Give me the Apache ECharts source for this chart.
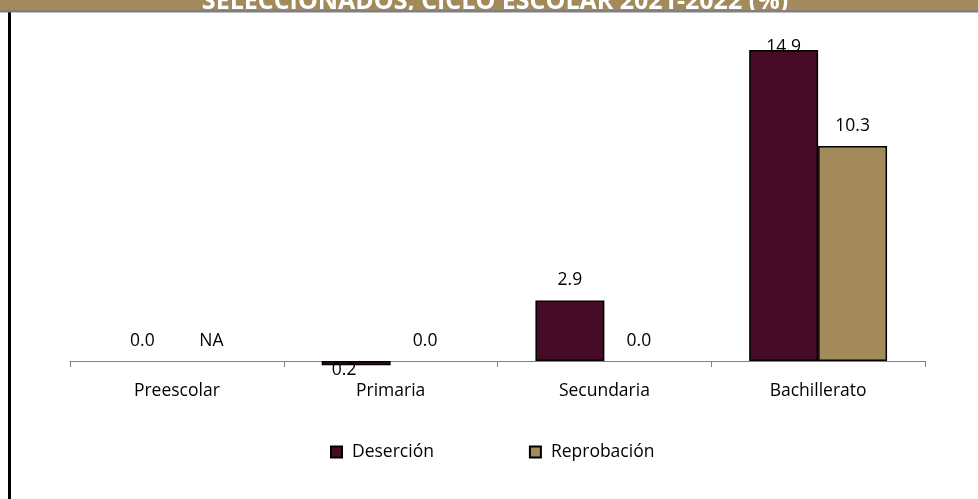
<!DOCTYPE html>
<html>
<head>
<meta charset="utf-8">
<script src="https://cdn.jsdelivr.net/npm/echarts@6/dist/echarts.min.js"></script>
<style>html,body{margin:0;padding:0;background:#fff;}#c{width:978px;height:499px;}</style>
</head>
<body>
<div id="c"></div>
<script>
const titleText = 'SELECCIONADOS, CICLO ESCOLAR 2021-2022 (%)';
const categories = ['Preescolar', 'Primaria', 'Secundaria', 'Bachillerato'];
const seriesNames = ['Deserción', 'Reprobación'];
const desercion = [0.0, -0.2, 2.9, 14.9];
const reprobacion = [null, 0.0, 0.0, 10.3];

const FONT = '"Open Sans", Lato, sans-serif';
const FS = 17.5;
const colors = ['#460B26', '#A28A5A'];

function buildData(arr) {
  const maxV = Math.max(...arr.filter(v => v !== null));
  return arr.map(v => {
    if (v === null) {
      return { value: 0, itemStyle: { borderWidth: 0 }, label: { formatter: 'NA' } };
    }
    const item = { value: v };
    if (v === 0) item.itemStyle = { borderWidth: 0 };
    if (v < 0) item.label = { position: 'bottom', distance: -4, offset: [-12, 0] };
    if (v === maxV && v > 12) item.label = { distance: -6 };
    return item;
  });
}

const chart = echarts.init(document.getElementById('c'), null, { renderer: 'canvas' });
chart.setOption({
  animation: false,
  backgroundColor: '#fff',
  graphic: [
    { type: 'rect', left: 0, top: 0, shape: { width: 978, height: 10 }, style: { fill: '#A28A5A' }, z: 10 },
    { type: 'rect', left: 0, top: 10, shape: { width: 978, height: 2.5 }, style: { fill: '#7F7F7F' }, z: 12 },
    { type: 'rect', left: 8, top: 12, shape: { width: 3, height: 487 }, style: { fill: '#000' }, z: 10 },
    { type: 'text', x: 495, y: 14, z: 11,
      style: { text: titleText, fill: '#fff', font: 'bold 25px ' + FONT, align: 'center', verticalAlign: 'bottom' } }
  ],
  legend: {
    data: seriesNames,
    left: 330,
    top: 443,
    padding: 0,
    itemWidth: 11,
    itemHeight: 11,
    itemGap: 95,
    icon: 'rect',
    textStyle: { fontFamily: FONT, fontSize: FS, color: '#000', padding: [0, 0, 0, 5] }
  },
  grid: { left: 70, right: 53, top: 27.1, bottom: 117.1, containLabel: false },
  xAxis: {
    type: 'category',
    data: categories,
    axisLine: { onZero: true, lineStyle: { color: '#808080', width: 1.2 } },
    axisTick: { show: true, alignWithLabel: false, length: 6, lineStyle: { color: '#808080' } },
    axisLabel: { fontFamily: FONT, fontSize: FS, color: '#000', margin: 0 },
    splitLine: { show: false }
  },
  yAxis: {
    type: 'value',
    min: -1,
    max: 16,
    show: false,
    splitLine: { show: false }
  },
  series: [
    {
      name: seriesNames[0],
      type: 'bar',
      data: buildData(desercion),
      barGap: '0%',
      barCategoryGap: '35.5%',
      itemStyle: { color: colors[0], borderColor: '#000', borderWidth: 1.5 },
      label: {
        show: true, position: 'top', distance: 11,
        fontFamily: FONT, fontSize: FS, color: '#000',
        formatter: p => Math.abs(p.value).toFixed(1)
      }
    },
    {
      name: seriesNames[1],
      type: 'bar',
      data: buildData(reprobacion),
      barGap: '0%',
      barCategoryGap: '35.5%',
      itemStyle: { color: colors[1], borderColor: '#000', borderWidth: 1.5 },
      label: {
        show: true, position: 'top', distance: 11,
        fontFamily: FONT, fontSize: FS, color: '#000',
        formatter: p => Math.abs(p.value).toFixed(1)
      }
    }
  ]
});
</script>
</body>
</html>
